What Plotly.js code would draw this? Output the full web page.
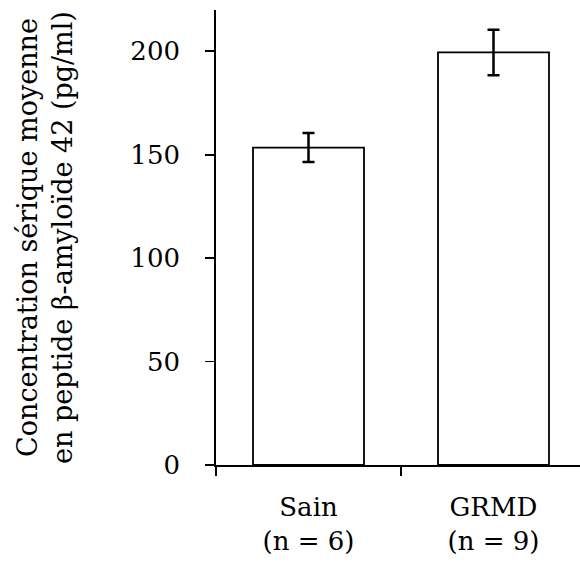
<!DOCTYPE html>
<html>
<head>
<meta charset="utf-8">
<script src="https://cdn.plot.ly/plotly-3.0.1.min.js"></script>
<style>html,body{margin:0;padding:0;background:#fff;}#chart{width:580px;height:565px;}</style>
</head>
<body>
<div id="chart"></div>
<script>
var categories = ["Sain<br>(n = 6)", "GRMD<br>(n = 9)"];
var means = [153.5, 199.5];
var errors = [7, 11];
var yTicks = [0, 50, 100, 150, 200];

var FONT = "DejaVu Serif";

var trace = {
  type: "bar",
  x: categories,
  y: means,
  width: 0.6,
  marker: { color: "#ffffff", line: { color: "#000000", width: 1.8 } },
  error_y: { type: "data", array: errors, visible: true, color: "#000000", thickness: 2.5, width: 6 },
  hoverinfo: "skip"
};

var layout = {
  width: 580,
  height: 565,
  margin: { l: 216, r: 0, t: 10, b: 100 },
  paper_bgcolor: "#ffffff",
  plot_bgcolor: "#ffffff",
  font: { family: FONT, size: 26, color: "#000000" },
  showlegend: false,
  bargap: 0.4,
  xaxis: {
    type: "category",
    range: [-0.5, 1.4676],
    showline: true, linecolor: "#000000", linewidth: 1.8,
    ticks: "outside", tickson: "boundaries", ticklen: 9, tickwidth: 1.8, tickcolor: "#000000",
    showgrid: false, zeroline: false,
    ticklabelstandoff: 18,
    tickfont: { family: FONT, size: 26, color: "#000000" }
  },
  yaxis: {
    range: [0, 220],
    tickvals: yTicks,
    ticktext: yTicks.map(String),
    showline: true, linecolor: "#000000", linewidth: 1.8,
    ticks: "outside", ticklen: 9, tickwidth: 1.8, tickcolor: "#000000",
    showgrid: false, zeroline: false,
    ticklabelstandoff: 20,
    tickfont: { family: FONT, size: 26, color: "#000000" },
    title: {
      text: "Concentration sérique moyenne<br>en peptide β-amyloïde 42 (pg/ml)",
      font: { family: FONT, size: 27, color: "#000000" },
      standoff: 50
    }
  }
};

Plotly.newPlot("chart", [trace], layout, { displayModeBar: false, staticPlot: true });
</script>
</body>
</html>
